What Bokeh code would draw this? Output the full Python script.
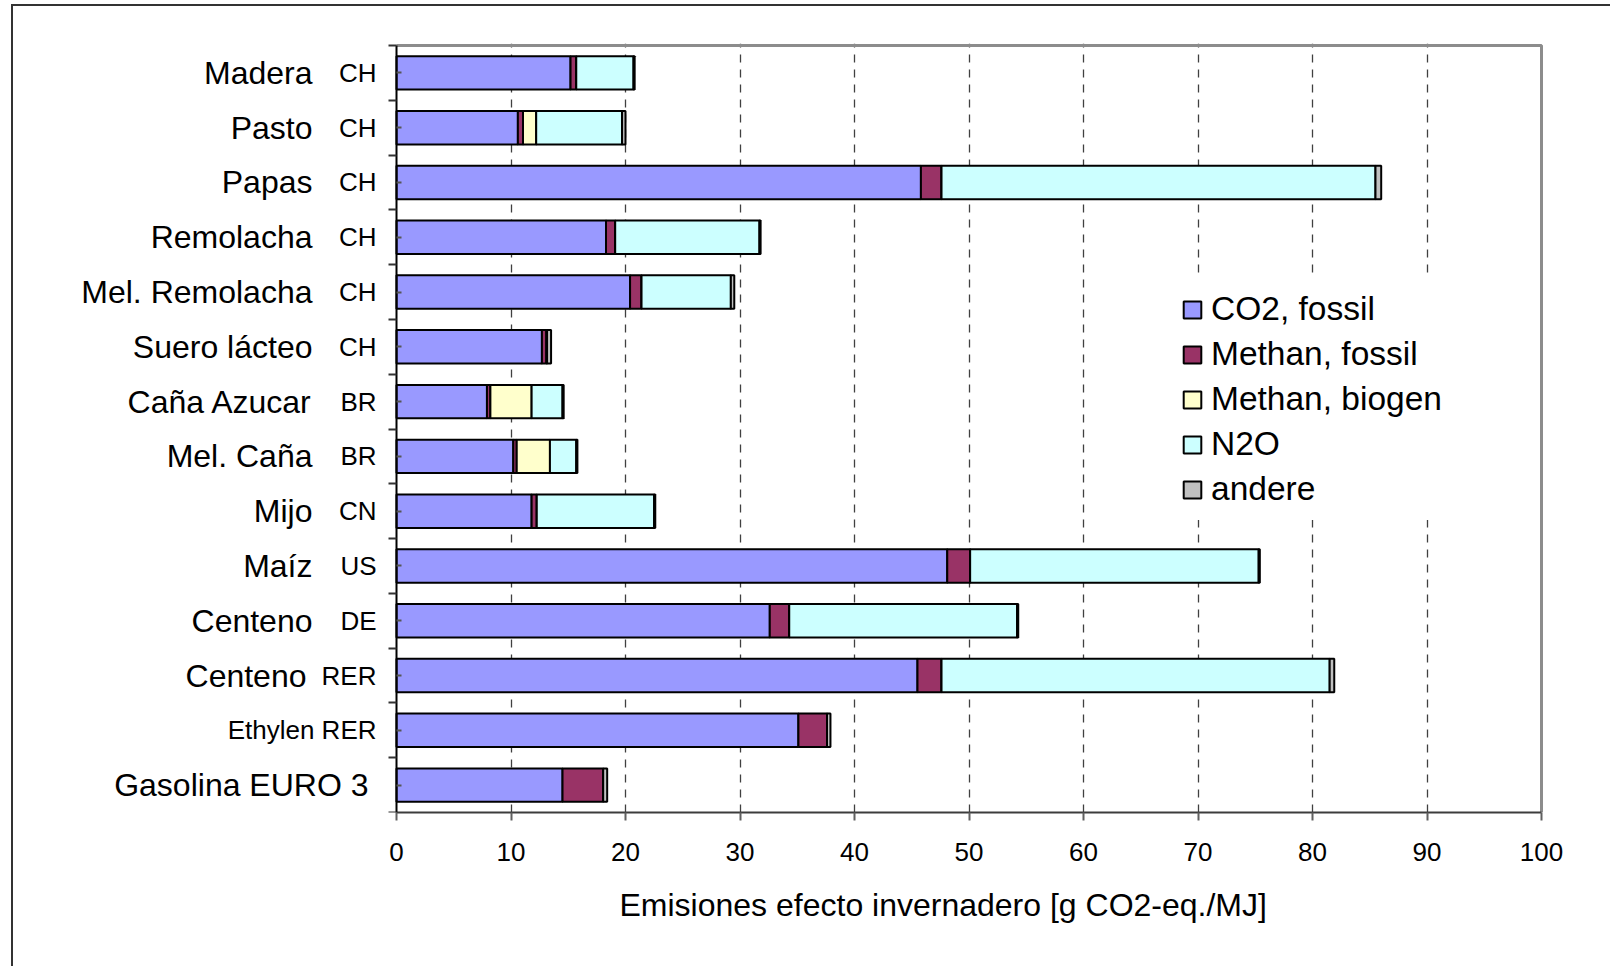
from bokeh.plotting import figure
from bokeh.models import (ColumnDataSource, Range1d, FixedTicker, LinearAxis, Title,
                          Legend, LegendItem)
from bokeh.embed import file_html
from bokeh.resources import INLINE

# ---------------- data ----------------
names = ["Madera", "Pasto", "Papas", "Remolacha", "Mel. Remolacha", "Suero lácteo",
         "Caña Azucar", "Mel. Caña", "Mijo", "Maíz", "Centeno", "Centeno",
         "Ethylen", "Gasolina EURO 3"]
codes = ["CH", "CH", "CH", "CH", "CH", "CH", "BR", "BR", "CN", "US", "DE", "RER", "RER", ""]

co2_fossil = [15.2, 10.6, 45.8, 18.3, 20.4, 12.7, 7.9, 10.2, 11.8, 48.1, 32.6, 45.5, 35.1, 14.5]
methan_fossil = [0.5, 0.45, 1.8, 0.8, 1.0, 0.4, 0.3, 0.3, 0.45, 2.0, 1.7, 2.1, 2.5, 3.55]
methan_biogen = [0.0, 1.15, 0.0, 0.0, 0.0, 0.0, 3.6, 2.9, 0.0, 0.0, 0.0, 0.0, 0.0, 0.0]
n2o = [5.0, 7.5, 37.9, 12.6, 7.8, 0.05, 2.7, 2.3, 10.25, 25.2, 19.9, 33.9, 0.0, 0.0]
andere = [0.1, 0.3, 0.5, 0.1, 0.3, 0.35, 0.1, 0.1, 0.1, 0.1, 0.1, 0.4, 0.3, 0.35]

series_names = ["CO2, fossil", "Methan, fossil", "Methan, biogen", "N2O", "andere"]
series_colors = ["#9999FF", "#993366", "#FFFFCC", "#CCFFFF", "#C0C0C0"]
x_ticks = list(range(0, 101, 10))
x_title = "Emisiones efecto invernadero [g CO2-eq./MJ]"

# ---------------- geometry (pixels of the reference layout) ----------------
W, H = 1610, 966
PL, PR, PT, PB = 396, 1541, 45, 812     # plot area (value 0..100, rows 0..n)
FRAME_R, FRAME_T = 1545, 43              # bokeh frame extends left to 0 for labels
n = len(names)
FONT = "Liberation Sans"

def x_of(px):
    return (px - PL) / (PR - PL) * 100.0

def y_of(py):
    return (PB - py) / (PB - PT) * n

ys = [n - 0.5 - i for i in range(n)]
keys = ["s0", "s1", "s2", "s3", "s4"]
src = ColumnDataSource(dict(y=ys, s0=co2_fossil, s1=methan_fossil, s2=methan_biogen,
                            s3=n2o, s4=andere))

bg = ("linear-gradient(#333333,#333333) 11px 5px / 2px 961px no-repeat, "
      "linear-gradient(#333333,#333333) 11px 4px / 1599px 2px no-repeat, #ffffff")

p = figure(width=W, height=H, x_range=Range1d(x_of(0), x_of(FRAME_R)),
           y_range=Range1d(0, y_of(FRAME_T)),
           output_backend="svg", toolbar_location=None, title=None,
           min_border_left=0, min_border_right=W - FRAME_R, min_border_top=FRAME_T,
           min_border_bottom=H - PB, y_axis_location=None)
p.styles = {"background": bg}
p.background_fill_alpha = 0
p.border_fill_alpha = 0
p.outline_line_color = None

# plot-area border (top and right, grey)
p.line(x=[0, 100, 100], y=[n, n, 0], line_color="#8c8c8c", line_width=3)

renderers = p.hbar_stack(keys, y="y", height=0.61, color=series_colors, source=src,
                         line_color="black", line_width=2)

# grid
p.ygrid.visible = False
p.xgrid.ticker = FixedTicker(ticks=x_ticks[1:-1])
p.xgrid.bounds = (0, n)
p.xgrid.grid_line_color = "#404040"
p.xgrid.grid_line_width = 1.3
p.xgrid.grid_line_dash = "8 7"

# x axis
xa = p.xaxis[0]
xa.bounds = (0, 100)
xa.ticker = FixedTicker(ticks=x_ticks)
xa.axis_line_color = "#3c3c3c"
xa.axis_line_width = 2
xa.major_tick_line_color = "#606060"
xa.major_tick_line_width = 2
xa.major_tick_in = 0
xa.major_tick_out = 8
xa.minor_tick_out = 0
xa.minor_tick_in = 0
xa.major_label_text_font = FONT
xa.major_label_text_font_size = "26px"
xa.major_label_text_color = "black"
xa.major_label_standoff = 22

# x axis title
p.add_layout(Title(text=x_title, align="left", offset=619,
                   text_font=FONT, text_font_size="32px", text_font_style="normal",
                   text_color="black", standoff=42), "below")

# y axis at value 0: row boundaries as outer ticks, row centres as small inner ticks,
# labelled with the country codes
code_labels = {}
name_groups = {}
for i, (nm, cd) in enumerate(zip(names, codes)):
    if nm == "Ethylen":
        code_labels[ys[i]] = nm + " " + cd
    elif cd == "":
        code_labels[ys[i]] = ""
        name_groups.setdefault(368, {})[ys[i]] = nm
    else:
        code_labels[ys[i]] = cd
        right = 306 if cd == "RER" else 312
        name_groups.setdefault(right, {})[ys[i]] = nm

ya = LinearAxis(fixed_location=0, bounds=(0, n),
                ticker=FixedTicker(ticks=ys, minor_ticks=list(range(0, n + 1))))
ya.major_label_overrides = code_labels
ya.axis_line_color = "black"
ya.axis_line_width = 2
ya.major_tick_line_color = "#555555"
ya.major_tick_line_width = 2
ya.major_tick_in = 5
ya.major_tick_out = 0
ya.minor_tick_line_color = "#333333"
ya.minor_tick_line_width = 2
ya.minor_tick_in = 0
ya.minor_tick_out = 8
ya.major_label_standoff = 12
ya.major_label_text_font = FONT
ya.major_label_text_font_size = "26px"
ya.major_label_text_color = "black"
p.add_layout(ya, "left")

# product names, right-aligned at their column
for right_px, labels in name_groups.items():
    na = LinearAxis(fixed_location=x_of(right_px), bounds=(0, n),
                    ticker=FixedTicker(ticks=sorted(labels.keys()), minor_ticks=[]))
    na.major_label_overrides = labels
    na.axis_line_color = None
    na.major_tick_line_color = None
    na.minor_tick_line_color = None
    na.major_tick_in = 0
    na.major_tick_out = 0
    na.major_label_standoff = 0
    na.major_label_text_font = FONT
    na.major_label_text_font_size = "32px"
    na.major_label_text_color = "black"
    p.add_layout(na, "left")

# legend
legend = Legend(items=[LegendItem(label=s, renderers=[r]) for s, r in zip(series_names, renderers)],
                location=(1169, 292), orientation="vertical",
                glyph_width=22, glyph_height=21, label_standoff=8,
                label_text_font=FONT, label_text_font_size="33.5px", label_text_color="black",
                spacing=7, padding=12, margin=0, border_line_alpha=0,
                background_fill_color="white", background_fill_alpha=1.0)
p.add_layout(legend)

open("out.html", "w").write(file_html(p, INLINE))
